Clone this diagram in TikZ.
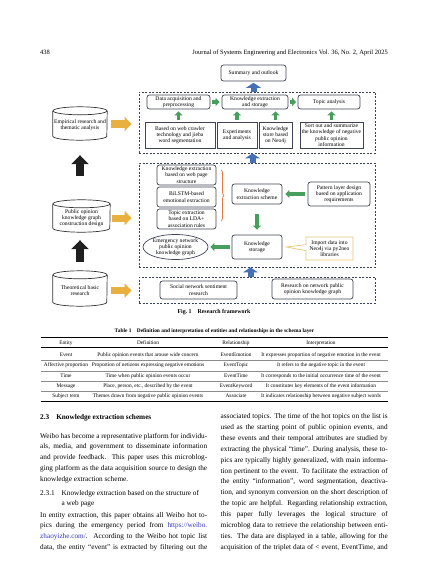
\documentclass[tikz,border=0pt]{standalone}
\usepackage{fontspec}
\setmainfont{Liberation Serif}
\usetikzlibrary{positioning, arrows.meta, decorations.pathreplacing, calc, shapes.geometric, shapes.callouts}
\definecolor{boxline}{RGB}{62,68,84}
\definecolor{dashline}{RGB}{58,66,86}
\definecolor{arrgreen}{RGB}{72,158,92}
\definecolor{arrblue}{RGB}{70,112,180}
\definecolor{arrgold}{RGB}{232,176,62}
\definecolor{bracecol}{RGB}{228,120,70}
\definecolor{notecol}{RGB}{232,198,118}
\definecolor{linkblue}{RGB}{52,52,190}

\newcommand{\figfont}{\fontsize{5.6}{6.3}\selectfont}
\newcommand{\tabfont}{\fontsize{5.35}{6}\selectfont}
\newcommand{\bodyfont}{\fontsize{7.25}{10.8}\selectfont}
\newcommand{\jline}[1]{\makebox[167pt][s]{#1}}

\tikzset{
  rbox/.style={draw=boxline, line width=0.7pt, rounded corners=2.5pt, fill=white,
    align=center, font=\figfont, inner sep=1pt},
  sbox/.style={draw=boxline, line width=0.6pt, fill=white, align=center,
    font=\figfont, inner sep=1pt},
  layerbox/.style={draw=dashline, line width=0.8pt, dash pattern=on 2pt off 1.5pt, inner sep=0pt},
  cylnode/.style={inner sep=0pt, align=center, font=\figfont},
  cylline/.style={draw=black!80, line width=0.7pt},
  garrow/.style={arrgreen, line width=3.5pt, -{Triangle[length=4pt, width=8pt]}},
  barrow/.style={arrblue, line width=6pt, -{Triangle[length=5pt, width=15pt]}},
  oarrow/.style={arrgold, line width=7pt, -{Triangle[length=7pt, width=14pt]}},
  karrow/.style={black!88, line width=8pt, -{Triangle[length=9pt, width=17pt]}},
  tabtext/.style={anchor=base, inner sep=0pt, font=\tabfont},
  bodyline/.style={anchor=base west, inner sep=0pt, font=\bodyfont},
}

\begin{document}
\begin{tikzpicture}[x=1pt, y=-1pt]
\useasboundingbox (0,0) rectangle (427,583);

% running head
\node[anchor=base west, inner sep=0pt, font=\fontsize{6.5}{8}\selectfont] (pageno) at (40,54.5) {438};
\node[anchor=base east, inner sep=0pt, font=\fontsize{6.5}{8}\selectfont] (runhead) at (388,54.5)
  {Journal of Systems Engineering and Electronics Vol. 36, No. 2, April 2025};

% Fig. 1: three layers
\node[layerbox, minimum width=236, minimum height=61] (toplayer) at (257,122.5) {};
\node[layerbox, minimum width=236, minimum height=104] (midlayer) at (257,215) {};
\node[layerbox, minimum width=236, minimum height=26] (botlayer) at (257,290) {};

\node[rbox, minimum width=65, minimum height=16] (summary) at (253.5,73) {Summary and outlook};

% top layer
\node[rbox, minimum width=63, minimum height=14] (acquire) at (178.5,102) {Data acquisition and\\preprocessing};
\node[rbox, minimum width=66, minimum height=14] (extstore) at (255,102) {Knowledge extraction\\and storage};
\node[rbox, minimum width=62, minimum height=14] (topic) at (329,102) {Topic analysis};
\node[sbox, minimum width=70, minimum height=26] (crawler) at (180,135) {Based on web crawler\\technology and jieba\\word segmentation};
\node[sbox, minimum width=40, minimum height=26] (expts) at (237,135) {Experiments\\and analysis};
\node[sbox, minimum width=33, minimum height=26] (neostore) at (275.5,135) {Knowledge\\store based\\on Neo4j};
\node[sbox, minimum width=63, minimum height=26] (sortout) at (331.5,135) {Sort out and summarize\\the knowledge of negative\\public opinion\\information};

\draw[garrow, shorten <=2pt, shorten >=2pt] (acquire.south |- crawler.north) -- (acquire.south);
\draw[garrow, shorten <=2pt, shorten >=2pt] (expts.north) -- (expts.north |- extstore.south);
\draw[garrow, shorten <=2pt, shorten >=2pt] (neostore.north) -- (neostore.north |- extstore.south);
\draw[garrow, shorten <=2pt, shorten >=2pt] (sortout.north) -- (sortout.north |- topic.south);
\draw[garrow, shorten <=2pt, shorten >=2pt] (acquire) -- (extstore);
\draw[garrow, shorten <=1.5pt, shorten >=1.5pt] (extstore) -- (topic);

% middle layer
\node[rbox, minimum width=59, minimum height=20] (webpage) at (186.5,175) {Knowledge extraction\\based on web page\\structure};
\node[rbox, minimum width=59, minimum height=20] (bilstm) at (186.5,197) {BiLSTM-based\\emotional extraction};
\node[rbox, minimum width=59, minimum height=20] (ldarule) at (186.5,219) {Topic extraction\\based on LDA+\\association rules};
\draw[bracecol, line width=0.7pt, decorate, decoration={brace, amplitude=3pt}]
  (221,170) -- (221,221);
\node[rbox, minimum width=50, minimum height=20] (scheme) at (257,194) {Knowledge\\extraction scheme};
\node[rbox, minimum width=62, minimum height=24] (pattern) at (339,194) {Pattern layer design\\based on application\\requirements};
\node[rbox, minimum width=50, minimum height=24] (kstore) at (257,247) {Knowledge\\storage};
\node[ellipse, draw=boxline, line width=0.7pt, minimum width=65, minimum height=25, inner sep=0pt,
  align=center, font=\figfont] (kgraph) at (175.5,247) {Emergency network\\public opinion\\knowledge graph};
\node[rectangle callout, draw=notecol, line width=0.7pt, fill=white, align=center, font=\figfont,
  minimum width=47, minimum height=23, inner sep=1pt, callout pointer width=6pt,
  callout absolute pointer={([xshift=4pt]kstore.east)}] (importnote) at (329.5,248.5)
  {Import data into\\Neo4j via py2neo\\libraries};

\draw[garrow, shorten <=3pt, shorten >=3pt] (pattern) -- (scheme);
\draw[garrow, shorten <=10pt, shorten >=5pt] (scheme) -- (kstore);
\draw[garrow, shorten <=2pt, shorten >=2pt] (kstore.west) -- (kstore.west -| kgraph.east);

% bottom layer
\node[rbox, minimum width=77, minimum height=18] (socnet) at (198.5,290) {Social network sentiment\\research};
\node[rbox, minimum width=81, minimum height=20] (kgstudy) at (312.5,289) {Research on network public\\opinion knowledge graph};

% links between layers
\draw[barrow, shorten >=1.5pt] (summary.south |- toplayer.north) -- (summary.south);
\draw[barrow] ([xshift=-1pt]summary.south |- midlayer.north) -- ([xshift=-1pt]summary.south |- toplayer.south);
\draw[barrow] ([xshift=-3pt]summary.south |- botlayer.north) -- ([xshift=-3pt]summary.south |- midlayer.south);

% cylinders on the left (node = body below the lid)
\node[cylnode, minimum width=54, minimum height=29] (empir) at (80,125.5) {Empirical research and\\thematic analysis};
\node[cylnode, minimum width=57, minimum height=28] (pubdesign) at (81.5,218) {Public opinion\\knowledge graph\\construction design};
\node[cylnode, minimum width=54, minimum height=31] (theory) at (80,290.5) {Theoretical basic\\research};

\draw[cylline] (empir.north) ellipse [x radius=27pt, y radius=4pt];
\draw[cylline] (empir.north west) -- ([yshift=4pt]empir.south west)
  arc[start angle=180, end angle=360, x radius=27pt, y radius=4pt] -- (empir.north east);
\draw[cylline] (pubdesign.north) ellipse [x radius=28.5pt, y radius=4pt];
\draw[cylline] (pubdesign.north west) -- ([yshift=4pt]pubdesign.south west)
  arc[start angle=180, end angle=360, x radius=28.5pt, y radius=4pt] -- (pubdesign.north east);
\draw[cylline] (theory.north) ellipse [x radius=27pt, y radius=4pt];
\draw[cylline] (theory.north west) -- ([yshift=4pt]theory.south west)
  arc[start angle=180, end angle=360, x radius=27pt, y radius=4pt] -- (theory.north east);

\draw[oarrow, shorten <=4pt, shorten >=7pt] ([yshift=1.5pt]empir.east) -- ([yshift=1.5pt]empir.east -| toplayer.west);
\draw[oarrow, shorten <=2pt, shorten >=7pt] (pubdesign.east) -- (pubdesign.east -| midlayer.west);
\draw[oarrow, shorten <=4pt, shorten >=7pt] (theory.east) -- (theory.east -| botlayer.west);

\draw[karrow, shorten <=13pt, shorten >=8pt] (theory.north) -- (theory.north |- pubdesign.south);
\draw[karrow, shorten <=28pt, shorten >=15pt] (theory.north |- pubdesign.north) -- (theory.north |- empir.south);

\node[font=\bfseries\fontsize{5.9}{7}\selectfont, inner sep=0pt] (figcap) at (214,312)
  {Fig.~1\quad Research framework};

% Table 1
\node[font=\bfseries\fontsize{5.4}{6}\selectfont, inner sep=0pt] (tabcap) at (214.5,331.5)
  {Table~1\quad Definition and interpretation of entities and relationships in the schema layer};
\draw[line width=0.9pt] (41,337.5) -- (388,337.5);
\draw[line width=0.5pt] (41,347.5) -- (388,347.5);
\foreach \y in {360.6,370.9,381.1,391.3}
  \draw[line width=0.4pt, black!45] (41,\y) -- (388,\y);
\draw[line width=0.9pt] (41,401.5) -- (388,401.5);

\node[tabtext] (hd-1) at (66,344.6) {Entity};
\node[tabtext] (hd-2) at (148,344.6) {Definition};
\node[tabtext] (hd-3) at (236,344.6) {Relationship};
\node[tabtext] (hd-4) at (321,344.6) {Interpretation};
\foreach \ent/\dfn/\rel/\itp [count=\i] in {
  Event/Public opinion events that arouse wide concern/EventEmotion/It expresses proportion of negative emotion in the event,
  Affective proportion/Proportion of netizens expressing negative emotions/EventTopic/It refers to the negative topic in the event,
  Time/Time when public opinion events occur/EventTime/It corresponds to the initial occurrence time of the event,
  Message/{Place, person, etc., described by the event}/EventKeyword/It constitutes key elements of the event information,
  Subject term/Themes drawn from negative public opinion events/Associate/It indicates relationship between negative subject words}
{
  \pgfmathsetmacro{\rowy}{356.6+10.25*(\i-1)}
  \node[tabtext] (ent-\i) at (66,\rowy) {\ent};
  \node[tabtext] (dfn-\i) at (148,\rowy) {\dfn};
  \node[tabtext] (rel-\i) at (236,\rowy) {\rel};
  \node[tabtext] (itp-\i) at (321,\rowy) {\itp};
}

% left column
\node[bodyline, font=\bfseries\fontsize{7.25}{10}\selectfont] (sechead) at (40,419.3)
  {2.3\hspace{7pt}Knowledge extraction schemes};
\foreach \ln [count=\i] in {
  {Weibo has become a representative platform for individu-},
  {als, media, and government to disseminate information},
  {and provide feedback. This paper uses this microblog-},
  {ging platform as the data acquisition source to design the}}
  \node[bodyline] (para-a-\i) at (40,438+10.8*\i-10.8) {\jline{\ln}};
\node[bodyline] (para-a-5) at (40,481.2) {knowledge extraction scheme.};
\node[bodyline] (subhead) at (40,495.5) {2.3.1};
\node[bodyline] (subhead-a) at (61.5,495.5) {Knowledge extraction based on the structure of};
\node[bodyline] (subhead-b) at (61.5,505) {a web page};
\foreach \ln [count=\i] in {
  {In entity extraction, this paper obtains all Weibo hot to-},
  {pics during the emergency period from \textcolor{linkblue}{https://weibo.}},
  {\textcolor{linkblue}{zhaoyizhe.com/}. According to the Weibo hot topic list},
  {data, the entity ``event'' is extracted by filtering out the}}
  \node[bodyline] (para-b-\i) at (40,517+10.8*\i-10.8) {\jline{\ln}};

% right column
\foreach \ln [count=\i] in {
  {associated topics. The time of the hot topics on the list is},
  {used as the starting point of public opinion events, and},
  {these events and their temporal attributes are studied by},
  {extracting the physical ``time''. During analysis, these to-},
  {pics are typically highly generalized, with main informa-},
  {tion pertinent to the event. To facilitate the extraction of},
  {the entity ``information'', word segmentation, deactiva-},
  {tion, and synonym conversion on the short description of},
  {the topic are helpful. Regarding relationship extraction,},
  {this paper fully leverages the logical structure of},
  {microblog data to retrieve the relationship between enti-},
  {ties. The data are displayed in a table, allowing for the},
  {acquisition of the triplet data of < event, EventTime, and}}
  \node[bodyline] (para-c-\i) at (220.5,418.8+10.85*\i-10.85) {\jline{\ln}};
\end{tikzpicture}
\end{document}
